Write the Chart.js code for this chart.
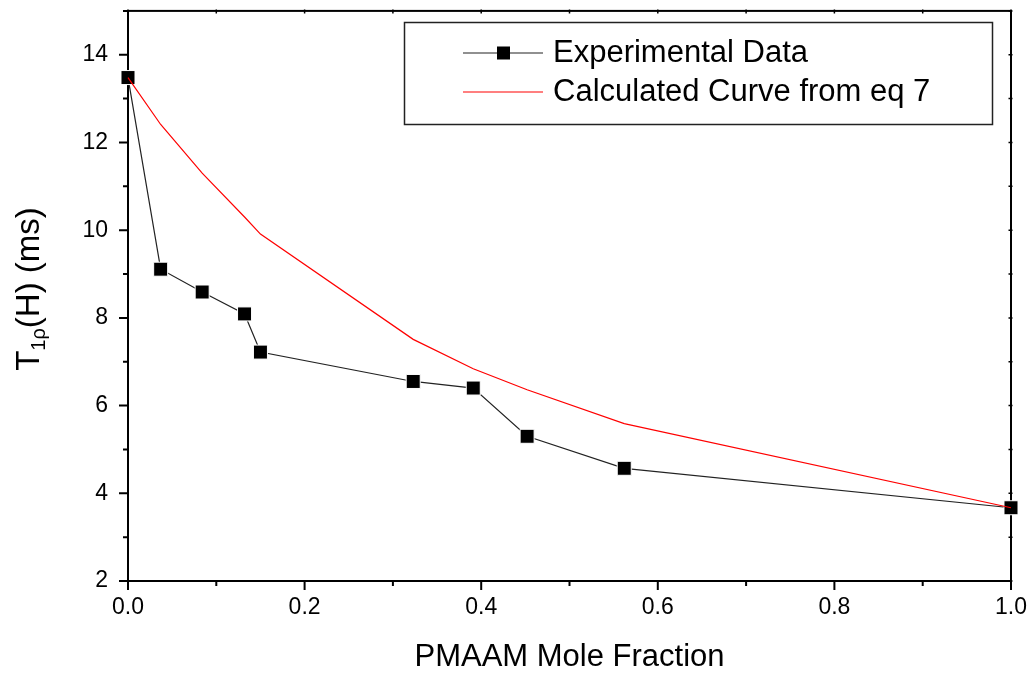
<!DOCTYPE html>
<html>
<head>
<meta charset="utf-8">
<script src="https://cdn.jsdelivr.net/npm/chart.js@4.4.1/dist/chart.umd.min.js"></script>
<style>
  html, body { margin: 0; padding: 0; background: #fff; }
  #wrap { width: 1032px; height: 677px; position: relative; }
</style>
</head>
<body>
<div id="wrap"><canvas id="c" width="1032" height="677"></canvas></div>
<script>
// ---- data ----
const moleFraction = [0, 0.037, 0.084, 0.132, 0.150, 0.323, 0.391, 0.452, 0.562, 1.0];
const experimentalT1 = [13.48, 9.11, 8.59, 8.09, 7.22, 6.55, 6.40, 5.30, 4.57, 3.67];
const calculatedT1 = [13.48, 12.41, 11.30, 10.30, 9.91, 7.51, 6.84, 6.36, 5.59, 3.67];
const xTickValues = [0, 0.2, 0.4, 0.6, 0.8, 1.0];
const xMinorValues = [0.1, 0.3, 0.5, 0.7, 0.9];
const yTickValues = [2, 4, 6, 8, 10, 12, 14];
const yMinorValues = [3, 5, 7, 9, 11, 13, 15];
const legendLabels = ['Experimental Data', 'Calculated Curve from eq 7'];
const xTitle = 'PMAAM Mole Fraction';

const FONT = "'Liberation Sans', Arial, sans-serif";

const framePlugin = {
  id: 'frame',
  beforeDatasetsDraw(chart) {
    const ctx = chart.ctx;
    const a = chart.chartArea;
    const xs = chart.scales.x, ys = chart.scales.y;
    ctx.save();
    ctx.strokeStyle = '#000';
    ctx.lineWidth = 2;
    ctx.strokeRect(a.left, a.top, a.right - a.left, a.bottom - a.top);
    ctx.beginPath();
    yTickValues.forEach(v => { const y = ys.getPixelForValue(v); ctx.moveTo(a.left - 9, y); ctx.lineTo(a.left, y); });
    yMinorValues.forEach(v => { const y = ys.getPixelForValue(v); ctx.moveTo(a.left - 5, y); ctx.lineTo(a.left, y); });
    xTickValues.forEach(v => { const x = xs.getPixelForValue(v); ctx.moveTo(x, a.bottom); ctx.lineTo(x, a.bottom + 9); });
    xMinorValues.forEach(v => { const x = xs.getPixelForValue(v); ctx.moveTo(x, a.bottom); ctx.lineTo(x, a.bottom + 5); });
    ctx.stroke();
    ctx.beginPath();
    ctx.lineWidth = 1.5;
    xTickValues.concat(xMinorValues).forEach(v => { const x = xs.getPixelForValue(v); ctx.moveTo(x, a.top - 1.5); ctx.lineTo(x, a.top + 2.5); });
    yTickValues.concat(yMinorValues).forEach(v => { const y = ys.getPixelForValue(v); ctx.moveTo(a.right - 2.5, y); ctx.lineTo(a.right + 1.5, y); });
    ctx.stroke();
    ctx.restore();
  },
  afterDraw(chart) {
    const ctx = chart.ctx;
    const a = chart.chartArea;
    ctx.save();
    // legend box
    const lx = 404.5, ly = 22.5, lw = 588, lh = 102;
    ctx.strokeStyle = '#222';
    ctx.lineWidth = 1.5;
    ctx.strokeRect(lx, ly, lw, lh);
    const rows = [53, 92];
    ctx.strokeStyle = '#222';
    ctx.lineWidth = 1.2;
    ctx.beginPath(); ctx.moveTo(463, rows[0]); ctx.lineTo(543, rows[0]); ctx.stroke();
    ctx.fillStyle = '#000';
    ctx.fillRect(497, rows[0] - 6.5, 13, 13);
    ctx.strokeStyle = '#ff0000';
    ctx.lineWidth = 1.2;
    ctx.beginPath(); ctx.moveTo(463, rows[1]); ctx.lineTo(543, rows[1]); ctx.stroke();
    ctx.fillStyle = '#000';
    ctx.font = '31px ' + FONT;
    ctx.textBaseline = 'middle';
    ctx.textAlign = 'left';
    ctx.fillText(legendLabels[0], 553, rows[0]);
    ctx.fillText(legendLabels[1], 553, rows[1]);

    // x axis title
    ctx.font = '31px ' + FONT;
    ctx.textAlign = 'center';
    ctx.textBaseline = 'alphabetic';
    ctx.fillText(xTitle, (a.left + a.right) / 2, 666);

    // y axis title: T_{1ρ}(H) (ms)
    ctx.translate(39, 289);
    ctx.rotate(-Math.PI / 2);
    const big = '33px ' + FONT, small = '20px ' + FONT;
    ctx.font = big; const wT = ctx.measureText('T').width;
    ctx.font = small; const wS = ctx.measureText('1\u03C1').width;
    ctx.font = big; const wR = ctx.measureText('(H) (ms)').width;
    const total = wT + wS + wR;
    let x0 = -total / 2;
    ctx.textAlign = 'left';
    ctx.textBaseline = 'alphabetic';
    ctx.font = big; ctx.fillText('T', x0, 0); x0 += wT;
    ctx.font = small; ctx.fillText('1\u03C1', x0, 6); x0 += wS;
    ctx.font = big; ctx.fillText('(H) (ms)', x0, 0);
    ctx.restore();
  }
};

const ctx = document.getElementById('c').getContext('2d');
new Chart(ctx, {
  type: 'line',
  data: {
    datasets: [
      {
        label: legendLabels[1],
        data: moleFraction.map((x, i) => ({ x: x, y: calculatedT1[i] })),
        borderColor: '#ff0000',
        borderWidth: 1.2,
        pointRadius: 0,
        tension: 0,
        fill: false,
        clip: false
      },
      {
        label: legendLabels[0],
        data: moleFraction.map((x, i) => ({ x: x, y: experimentalT1[i] })),
        borderColor: '#222',
        borderWidth: 1.2,
        pointStyle: 'rect',
        pointRadius: 9.9,
        pointBackgroundColor: '#000',
        pointBorderColor: '#fff',
        pointBorderWidth: 1,
        tension: 0,
        fill: false,
        clip: false
      }
    ]
  },
  options: {
    responsive: false,
    animation: false,
    devicePixelRatio: 1,
    layout: { padding: { left: 0, right: 21, top: 9, bottom: 0 } },
    plugins: { legend: { display: false }, tooltip: { enabled: false } },
    scales: {
      x: {
        type: 'linear',
        min: 0, max: 1,
        grid: { display: false, drawTicks: false },
        border: { display: false },
        afterBuildTicks: s => { s.ticks = xTickValues.map(v => ({ value: v })); },
        afterFit: s => { s.height = 96; s.paddingLeft = 0; s.paddingRight = 0; },
        ticks: {
          color: '#000',
          font: { family: FONT, size: 23 },
          padding: 13,
          maxRotation: 0,
          callback: v => Number(v).toFixed(1)
        }
      },
      y: {
        type: 'linear',
        min: 2, max: 15,
        grid: { display: false, drawTicks: false },
        border: { display: false },
        afterBuildTicks: s => { s.ticks = yTickValues.map(v => ({ value: v })); },
        afterFit: s => { s.width = 128; s.paddingTop = 0; s.paddingBottom = 0; },
        ticks: {
          color: '#000',
          font: { family: FONT, size: 23 },
          padding: 20,
          callback: v => String(v)
        }
      }
    }
  },
  plugins: [framePlugin]
});
</script>
</body>
</html>
